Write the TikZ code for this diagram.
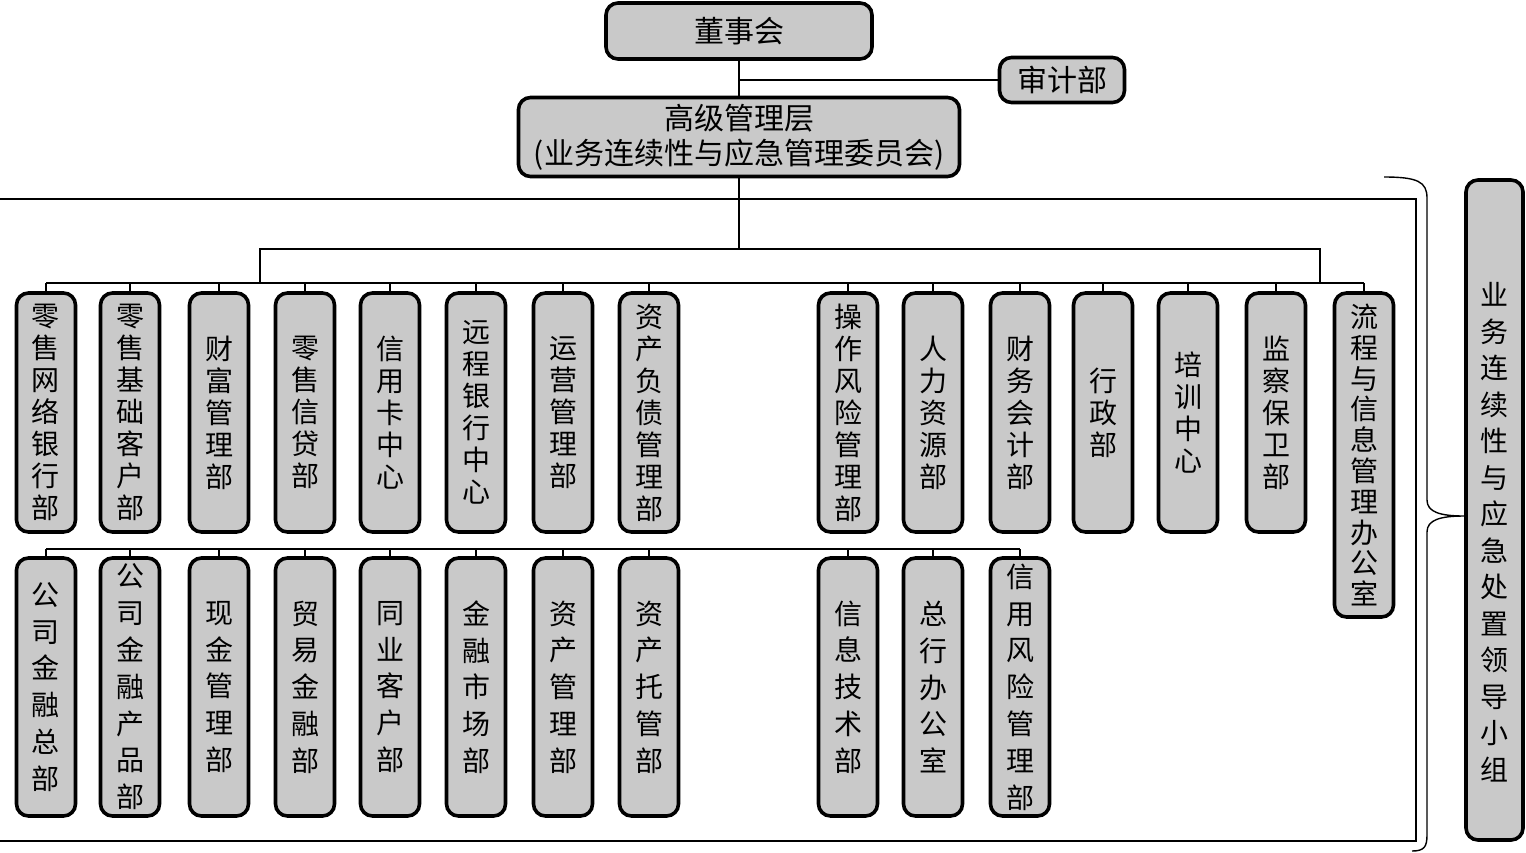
\documentclass[tikz,border=0pt]{standalone}
\usepackage{fontspec}
\setmainfont{Noto Sans CJK SC}
\usetikzlibrary{positioning}
\definecolor{boxgray}{RGB}{201,201,201}
\tikzset{
  dept/.style={
    shape = rectangle,
    draw,
    fill = boxgray,
    line width = 1.8pt,
    rounded corners = 6pt,
    inner sep = 0pt,
    align = center
  },
  topbox/.style={
    dept,
    font = \fontsize{15pt}{17.5pt}\selectfont
  },
  upper/.style={
    dept,
    minimum width = 29.5pt,
    minimum height = 119.5pt,
    font = \fontsize{14pt}{16pt}\selectfont
  },
  lower/.style={
    dept,
    minimum width = 29.5pt,
    minimum height = 129pt,
    font = \fontsize{14pt}{18.4pt}\selectfont
  },
  link/.style={
    line width = 0.7pt
  },
  trunk/.style={
    line width = 1pt
  }
}

\begin{document}
\begin{tikzpicture}[x=0.5pt,y=-0.5pt]
    \useasboundingbox (0,0) rectangle (1526,852);
    % top of the chart
    \node[topbox, minimum width=133pt, minimum height=28pt] (board) at (739,31) {董事会};
    \node[topbox, minimum width=62.5pt, minimum height=22.5pt] (audit) at (1062,80) {审计部};
    \node[topbox, minimum width=220.5pt, minimum height=39.5pt] (senior) at (739,137) {高级管理层\\(业务连续性与应急管理委员会)};
    \draw[link] (board.south) -- (senior.north);
    \draw[link] (audit.west) -- (audit.west -| board.south);
    % frame round the departments
    \draw[link] (0,199) -- (1416,199) -- (1416,841) -- (0,841);
    \coordinate (hub) at (739,249);
    \coordinate (busL) at (260,249);
    \coordinate (busR) at (1320,249);
    \coordinate (row1) at (0,283);
    \coordinate (row2) at (0,549);
    \draw[trunk] (senior.south) -- (hub);
    \draw[trunk] (busL |- row1) -- (busL) -- (busR) -- (busR |- row1);
    % first row
    \foreach \n/\x/\t in {ra/46/{零\\售\\网\\络\\银\\行\\部}, rb/130/{零\\售\\基\\础\\客\\户\\部},
        rc/219/{财\\富\\管\\理\\部}, rd/305/{零\\售\\信\\贷\\部}, re/390/{信\\用\\卡\\中\\心},
        rf/476/{远\\程\\银\\行\\中\\心}, rg/563/{运\\营\\管\\理\\部}, rh/649/{资\\产\\负\\债\\管\\理\\部},
        ri/848/{操\\作\\风\\险\\管\\理\\部}, rj/933/{人\\力\\资\\源\\部}, rk/1020/{财\\务\\会\\计\\部},
        rl/1103/{行\\政\\部}, rm/1188/{培\\训\\中\\心}, rn/1276/{监\\察\\保\\卫\\部}}{
    \node[upper] (\n) at (\x,412.5) {\t};
    \draw[link] (\n.north) -- (\n.north |- row1);}
    \node[upper, minimum height=162pt, font=\fontsize{14pt}{15.4pt}\selectfont] (ro) at (1364,455) {流\\程\\与\\信\\息\\管\\理\\办\\公\\室};
    \draw[link] (ro.north) -- (ro.north |- row1);
    \draw[link] (ra.north |- row1) -- (ro.north |- row1);
    % second row
    \foreach \n/\x/\t in {sa/46/{公\\司\\金\\融\\总\\部}, sb/130/{公\\司\\金\\融\\产\\品\\部},
        sc/219/{现\\金\\管\\理\\部}, sd/305/{贸\\易\\金\\融\\部}, se/390/{同\\业\\客\\户\\部},
        sf/476/{金\\融\\市\\场\\部}, sg/563/{资\\产\\管\\理\\部}, sh/649/{资\\产\\托\\管\\部},
        si/848/{信\\息\\技\\术\\部}, sj/933/{总\\行\\办\\公\\室}, sk/1020/{信\\用\\风\\险\\管\\理\\部}}{
    \node[lower] (\n) at (\x,687) {\t};
    \draw[link] (\n.north) -- (\n.north |- row2);}
    \draw[link] (sa.north |- row2) -- (sk.north |- row2);
    % leading group and its brace
    \node[lower, minimum width=28.5pt, minimum height=330pt] (lead) at (1494.5,510) {};
    \node[align=center, inner sep=0pt, font=\fontsize{14pt}{18.25pt}\selectfont] (leadtext) at (1494.5,532) {业\\务\\连\\续\\性\\与\\应\\急\\处\\置\\领\\导\\小\\组};
    \draw[link] (1384,177) .. controls (1418,177) and (1427,182) .. (1427,198) -- (1427,500)
        .. controls (1427,512) and (1440,516) .. (lead.west |- 0,516)
        .. controls (1440,516) and (1427,520) .. (1427,532) -- (1427,835)
        .. controls (1427,847) and (1424,851) .. (1412,851);
\end{tikzpicture}
\end{document}
